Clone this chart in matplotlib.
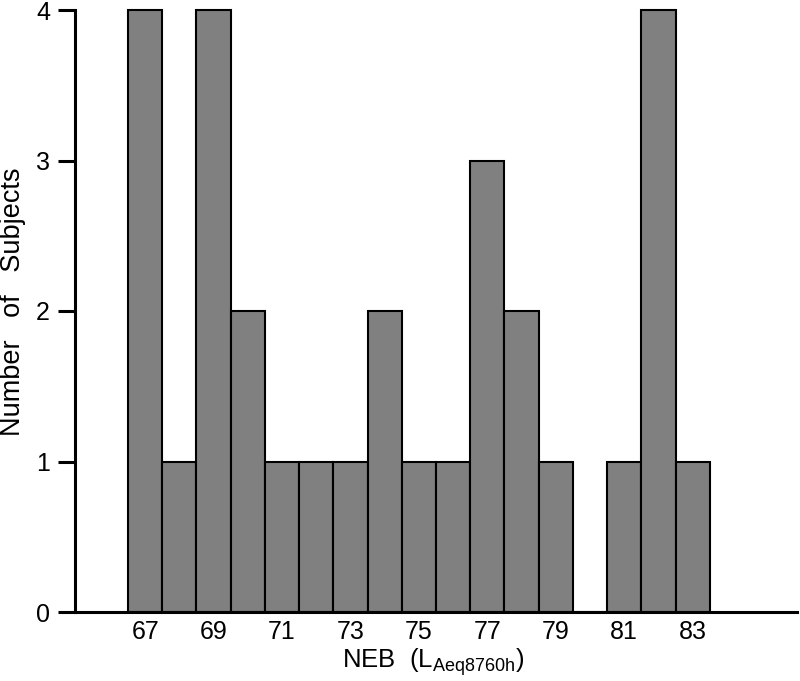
import matplotlib
matplotlib.use("Agg")
import matplotlib.pyplot as plt

neb_levels = [67, 68, 69, 70, 71, 72, 73, 74, 75, 76, 77, 78, 79, 80, 81, 82, 83]
subjects = [4, 1, 4, 2, 1, 1, 1, 2, 1, 1, 3, 2, 1, 0, 1, 4, 1]
xtick_labels = [67, 69, 71, 73, 75, 77, 79, 81, 83]
yticks = [0, 1, 2, 3, 4]

plt.rcParams['font.family'] = ['Liberation Sans', 'DejaVu Sans']
plt.rcParams['mathtext.fontset'] = 'custom'
plt.rcParams['mathtext.rm'] = 'Liberation Sans'

fig = plt.figure(figsize=(8, 6.81), dpi=100)
ax = fig.add_axes([75/800, 1-612/681, (797-75)/800, (612-10)/681])

bars = ax.bar(neb_levels, subjects, width=1.0, color='#808080', edgecolor='black', linewidth=1.5)
for b in bars:
    b.set_clip_on(False)

ax.set_xlim(64.95, 86.05)
ax.set_ylim(0, 4)
ax.set_xticks(xtick_labels)
ax.set_xticklabels([str(v) for v in xtick_labels], fontsize=18)
ax.set_yticks(yticks)
ax.set_yticklabels([str(v) for v in yticks], fontsize=18)
ax.tick_params(axis='x', length=0, pad=6)
ax.tick_params(axis='y', length=12, width=2.2, pad=6, direction='out')

for s in ['top', 'right']:
    ax.spines[s].set_visible(False)
for s in ['left', 'bottom']:
    ax.spines[s].set_linewidth(2.2)

fig.text(433/800, 1-668/681, r'NEB  (L$_{\mathregular{Aeq8760h}}$)', fontsize=18.5,
         ha='center', va='baseline')
fig.text(13/800, 1-302/681, 'Number   of   Subjects', fontsize=19.5, rotation=90,
         ha='center', va='center')

fig.savefig('out.png', dpi=100)
